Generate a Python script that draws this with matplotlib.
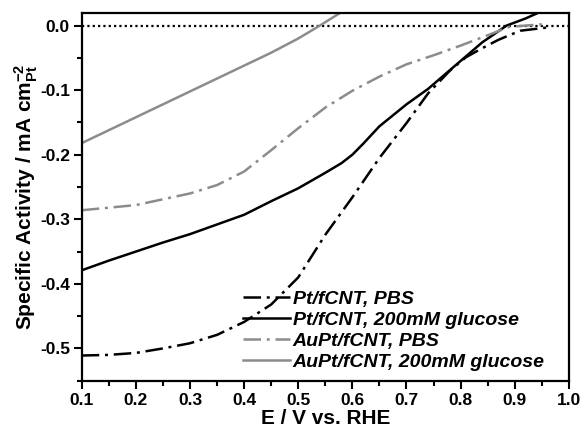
import matplotlib
matplotlib.use("Agg")
import matplotlib.pyplot as plt
from matplotlib.ticker import MultipleLocator

plt.rcParams['font.family'] = ['Liberation Sans', 'DejaVu Sans']
plt.rcParams['font.weight'] = 'bold'
plt.rcParams['mathtext.fontset'] = 'custom'
plt.rcParams['mathtext.rm'] = 'Liberation Sans:bold'
plt.rcParams['mathtext.bf'] = 'Liberation Sans:bold'
plt.rcParams['mathtext.default'] = 'bf'

# ---- data ----
pt_pbs_E = [0.10, 0.15, 0.20, 0.25, 0.30, 0.35, 0.40, 0.45, 0.50, 0.55, 0.60,
            0.65, 0.70, 0.74, 0.78, 0.81, 0.84, 0.87, 0.91, 0.96]
pt_pbs_j = [-0.511, -0.510, -0.507, -0.500, -0.492, -0.479, -0.459, -0.432, -0.390,
            -0.324, -0.266, -0.205, -0.151, -0.105, -0.070, -0.049, -0.035, -0.022,
            -0.008, -0.003]

pt_glu_E = [0.10, 0.15, 0.20, 0.25, 0.30, 0.35, 0.40, 0.45, 0.50, 0.55, 0.58, 0.60,
            0.62, 0.65, 0.70, 0.74, 0.79, 0.84, 0.885, 0.92, 0.96]
pt_glu_j = [-0.379, -0.364, -0.350, -0.336, -0.323, -0.308, -0.293, -0.272, -0.252,
            -0.228, -0.213, -0.200, -0.183, -0.156, -0.122, -0.098, -0.062, -0.026,
            0.000, 0.011, 0.026]

aupt_pbs_E = [0.10, 0.20, 0.30, 0.35, 0.40, 0.45, 0.50, 0.55, 0.60, 0.65, 0.70,
              0.75, 0.80, 0.85, 0.89, 0.95]
aupt_pbs_j = [-0.286, -0.278, -0.260, -0.247, -0.226, -0.193, -0.159, -0.127, -0.101,
              -0.079, -0.060, -0.046, -0.031, -0.015, -0.002, 0.002]

aupt_glu_E = [0.10, 0.20, 0.30, 0.40, 0.45, 0.50, 0.54, 0.58, 0.60]
aupt_glu_j = [-0.182, -0.142, -0.102, -0.062, -0.042, -0.020, 0.000, 0.021, 0.031]

labels = ['Pt/fCNT, PBS', 'Pt/fCNT, 200mM glucose',
          'AuPt/fCNT, PBS', 'AuPt/fCNT, 200mM glucose']

x_ticks = [0.1, 0.2, 0.3, 0.4, 0.5, 0.6, 0.7, 0.8, 0.9, 1.0]
y_ticks = [0.0, -0.1, -0.2, -0.3, -0.4, -0.5]

# ---- figure ----
fig = plt.figure(figsize=(5.84, 4.34), dpi=100)
ax = fig.add_axes([0.14, 0.1228, 0.834, 0.848])

gray = '#8c8c8c'
dashdot = (0, (7, 2.3, 1.2, 2.3))
lw = 1.8

ax.axhline(0.0, color='black', linestyle=(0, (1, 1.4)), linewidth=1.6, zorder=1)
ax.plot(pt_pbs_E, pt_pbs_j, color='black', linestyle=dashdot, linewidth=lw, label=labels[0])
ax.plot(pt_glu_E, pt_glu_j, color='black', linestyle='-', linewidth=lw, label=labels[1])
ax.plot(aupt_pbs_E, aupt_pbs_j, color=gray, linestyle=dashdot, linewidth=lw, label=labels[2])
ax.plot(aupt_glu_E, aupt_glu_j, color=gray, linestyle='-', linewidth=lw, label=labels[3])

ax.set_xlim(0.1, 1.0)
ax.set_ylim(-0.55, 0.02)
ax.set_xticks(x_ticks)
ax.set_yticks(y_ticks)
ax.xaxis.set_minor_locator(MultipleLocator(0.05))
ax.yaxis.set_minor_locator(MultipleLocator(0.05))
ax.set_xticklabels([f'{v:.1f}' for v in x_ticks])
ax.set_yticklabels([f'{v:.1f}' for v in y_ticks])

for s in ax.spines.values():
    s.set_linewidth(1.6)
ax.tick_params(which='major', direction='out', length=5.5, width=1.5,
               labelsize=12.5, pad=3, top=False, right=False)
ax.tick_params(which='minor', direction='out', length=3.5, width=1.5,
               top=False, right=False)
for t in ax.get_xticklabels() + ax.get_yticklabels():
    t.set_fontweight('bold')

ax.set_xlabel('E / V vs. RHE', fontsize=15, fontweight='bold', labelpad=1)
ax.set_ylabel(r'Specific Activity / mA cm$^{-2}_{Pt}$', fontsize=15,
              fontweight='bold', labelpad=0)

leg = ax.legend(loc='lower left', bbox_to_anchor=(0.331, 0.026), frameon=False,
                prop={'family': 'Liberation Sans', 'weight': 'bold',
                      'style': 'italic', 'size': 14},
                handlelength=2.4, handletextpad=0.15, labelspacing=0.18,
                borderpad=0, borderaxespad=0)

fig.savefig('out.png', dpi=100)
